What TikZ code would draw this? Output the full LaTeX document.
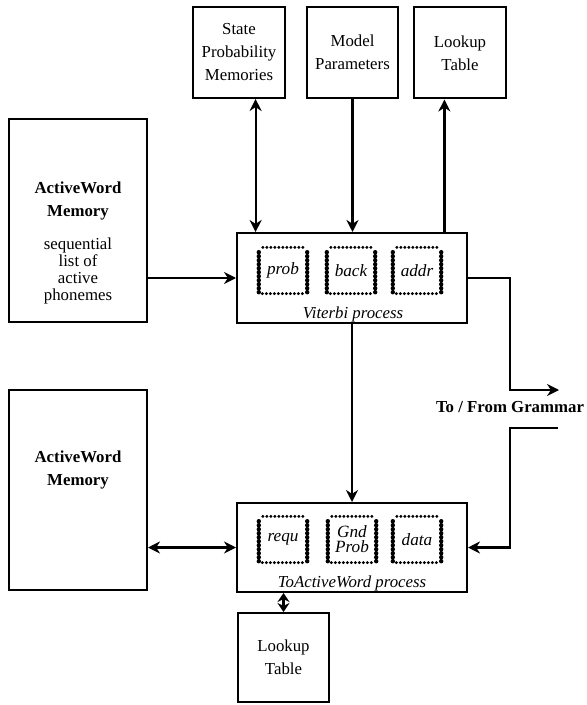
\documentclass[tikz,border=0pt]{standalone}
\usepackage{fontspec}
\setmainfont{Liberation Serif}
\usetikzlibrary{arrows.meta,positioning,calc}

\begin{document}
\begin{tikzpicture}[
	x=0.5pt, y=-0.5pt,
	>={Stealth[length=6pt,width=6pt]},
	txt/.style={font=\fontsize{8.4}{11.5}\selectfont, align=center},
	block/.style={draw, line width=1pt, inner sep=1pt, txt},
	tag/.style={font=\fontsize{8.4}{10}\selectfont\itshape, inner sep=0pt},
	beads/.style={line width=1.6pt, line cap=round, dash pattern=on 0pt off 2pt},
	chip/.style={
		minimum width=27pt, minimum height=25.5pt, inner sep=0pt,
		font=\fontsize{8.6}{7.6}\selectfont\itshape, align=center,
		path picture={
			\draw[beads] ([xshift=3.4pt,yshift=-1.2pt]path picture bounding box.north west) -- ([xshift=-3.4pt,yshift=-1.2pt]path picture bounding box.north east);
			\draw[beads] ([xshift=3.2pt,yshift=1.2pt]path picture bounding box.south west) -- ([xshift=-3.2pt,yshift=1.2pt]path picture bounding box.south east);
			\draw[beads,line width=2.2pt] ([xshift=1.4pt,yshift=-3.6pt]path picture bounding box.north west) -- ([xshift=1.4pt,yshift=1.4pt]path picture bounding box.south west);
			\draw[beads,line width=2.2pt] ([xshift=-1.4pt,yshift=-3.6pt]path picture bounding box.north east) -- ([xshift=-1.4pt,yshift=1.4pt]path picture bounding box.south east);
		}
	},
	link/.style={line width=1.1pt}
	]
	
	\useasboundingbox (0,0) rectangle (587,705);
	
	% memories on top
	\node[block,minimum width=46pt,minimum height=45.5pt] (spm) at (239,52.5) {State\\Probability\\Memories};
	\node[block,minimum width=45.5pt,minimum height=45.5pt] (model) at (352.5,52.5) {Model\\Parameters};
	\node[block,minimum width=46pt,minimum height=45.5pt] (lut) at (460,53) {Lookup\\Table};
	
	\node[block,minimum width=69pt,minimum height=101.5pt] (awm1) at (78,220.5) {};
	\node[txt] (awm1text) at (78,243) {\textbf{ActiveWord}\\\textbf{Memory}\\[5pt] sequential\\[-3pt] list of\\[-3pt] active\\[-3pt] phonemes};
	
	% Viterbi process
	\node[block,minimum width=115pt,minimum height=45pt] (viterbi) at (352,278) {};
	\node[chip] (prob) at (283,270.5) {prob};
	\node[chip] (back) at (351,270.5) {back};
	\node[chip] (addr) at (417,270.5) {addr};
	\node[tag] (vtag) at (353,314) {Viterbi process};
	
	\node[block,minimum width=69pt,minimum height=100pt] (awm2) at (78,490) {};
	\node[txt] (awm2text) at (78,470) {\textbf{ActiveWord}\\\textbf{Memory}};
	
	% ToActiveWord process
	\node[block,minimum width=115pt,minimum height=44.5pt] (toaw) at (352,547.5) {};
	\node[chip] (requ) at (283,539.5) {requ};
	\node[chip] (gnd) at (352,539.5) {Gnd\\Prob};
	\node[chip] (data) at (417,539.5) {data};
	\node[tag] (ttag) at (352,583) {ToActiveWord process};
	
	\node[block,minimum width=45.5pt,minimum height=44.5pt] (lut2) at (283.5,657.5) {Lookup\\Table};
	
	\node[txt,inner sep=0pt] (gram) at (510,407) {\textbf{To / From Grammar}};
	\coordinate (gout) at (559,390);
	\coordinate (gin) at (558,428);
	
	% connections
	\draw[link,<->] (spm.south -| prob.west) -- (viterbi.north -| prob.west);
	\draw[link,->] (model.south) -- (viterbi.north -| model.south);
	\draw[link,->] (viterbi.north -| addr.east) -- (lut.south -| addr.east);
	\draw[link,->] (awm1.east |- viterbi.west) -- (viterbi.west);
	\draw[link,->] (viterbi.south) -- (toaw.north);
	\draw[link,->] (viterbi.east) -- (viterbi.east -| gram) |- (gout);
	\draw[link,->] (gin) -| (toaw.east -| gram) -- (toaw.east);
	\draw[link,<->] (awm2.east |- toaw.west) -- (toaw.west);
	\draw[link,{Stealth[length=4.5pt,width=6pt]}-{Stealth[length=4.5pt,width=6pt]}] (toaw.south -| lut2.north) -- (lut2.north);
	
\end{tikzpicture}
\end{document}
